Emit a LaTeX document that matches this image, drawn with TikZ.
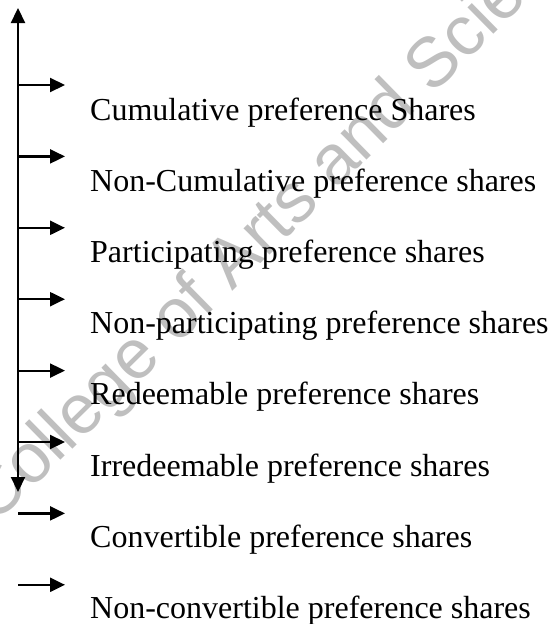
\documentclass[tikz,border=0pt]{standalone}
\usepackage{fontspec}
\setmainfont{Liberation Serif}
\newfontfamily\wmfont{Liberation Sans}
\usetikzlibrary{arrows.meta}
\tikzset{
  spine/.style={line width=2.2pt, {Triangle[length=15pt,width=14pt]}-{Triangle[length=15pt,width=14pt]}},
  branch/.style={line width=2.2pt, -{Triangle[length=15pt,width=14pt]}},
  label/.style={anchor=base west, inner sep=0pt, font=\fontsize{32}{38}\selectfont},
  watermark/.style={anchor=base west, inner sep=0pt, text=black!25, rotate=44.5, font=\wmfont\fontsize{70}{80}\selectfont}
}
\begin{document}
\begin{tikzpicture}[x=1pt,y=-1pt]
\useasboundingbox (0,0) rectangle (550,624);
\begin{scope}
\clip (0,0) rectangle (550,624);
\node[watermark] (wm) at (-6,526) {College of Arts and Science};
\end{scope}
\coordinate (top) at (18,8);
\coordinate (bot) at (18,492);
\draw[spine] (bot) -- (top);
\foreach \i/\t in {0/Cumulative preference Shares,1/Non-Cumulative preference shares,2/Participating preference shares,3/Non-participating preference shares,4/Redeemable preference shares,5/Irredeemable preference shares,6/Convertible preference shares,7/Non-convertible preference shares}{
  \coordinate (s\i) at (18,85+71.4*\i);
  \coordinate (e\i) at (65,85+71.4*\i);
  \node[label] (t\i) at (90,120+71.2*\i) {\t};
  \draw[branch] (s\i) -- (e\i);
}
\end{tikzpicture}
\end{document}
